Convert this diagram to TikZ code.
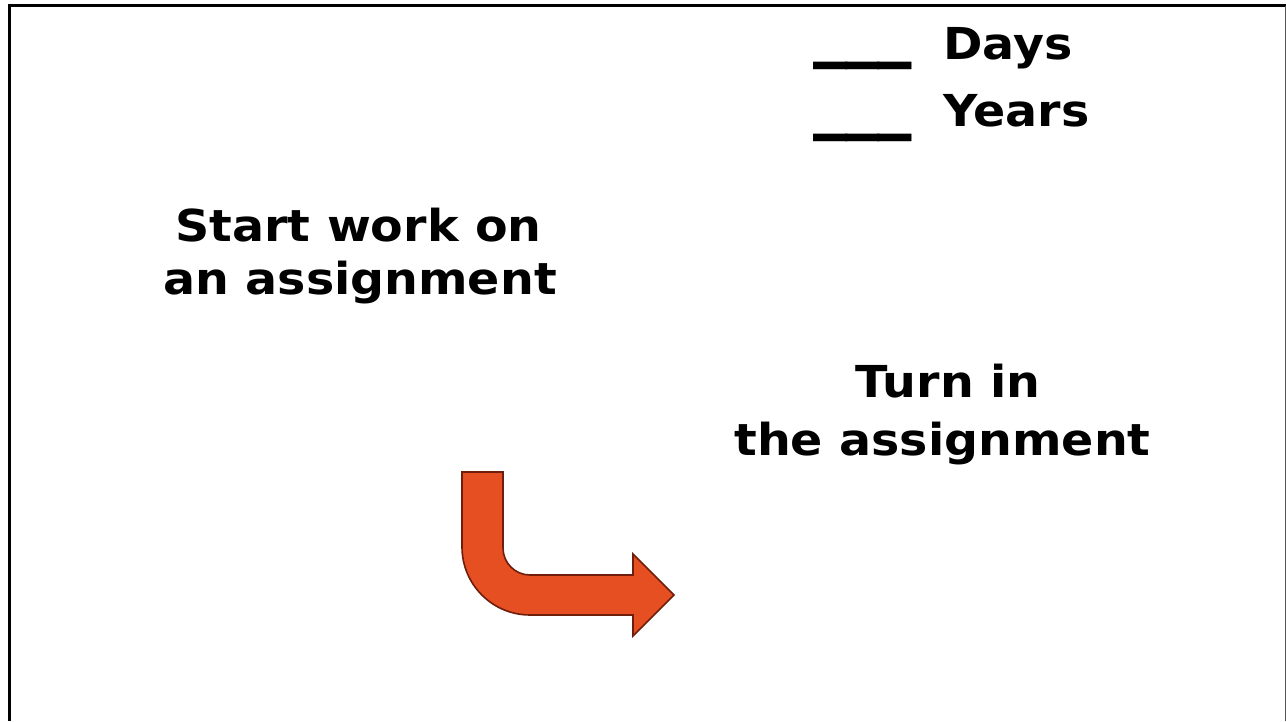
\documentclass[tikz,border=0pt]{standalone}
\usepackage{fontspec}
\newfontfamily\vfont{DejaVu Sans}[FakeStretch=1.08]
\definecolor{arrowfill}{HTML}{E64F22}
\definecolor{arrowline}{HTML}{6E1E0A}
\definecolor{edgegray}{HTML}{555555}
\newcommand{\blankline}{\scalebox{1.45}[1.85]{\_\kern-1.5pt\_\kern-1.5pt\_}}
\tikzset{
  lbl/.style={inner sep=0pt, font=\vfont\bfseries\fontsize{44}{54}\selectfont, text=black},
  bar/.style={inner sep=0pt, font=\vfont\bfseries\fontsize{44}{54}\selectfont, anchor=south west},
  bendarrow/.style={fill=arrowfill, draw=arrowline, line width=1.6pt, line join=miter}
}
\begin{document}
\begin{tikzpicture}[x=1pt,y=1pt]
\useasboundingbox (0,0) rectangle (1286,721);
\fill[white] (0,0) rectangle (1286,721);
% frame
\coordinate (tl) at (9.5,715);
\coordinate (tr) at (1286,715);
\coordinate (bl) at (9.5,0);
\coordinate (rt) at (1285.5,715);
\coordinate (rb) at (1285.5,0);
\draw[line width=3pt] (bl) -- (tl) -- (tr);
\draw[edgegray, line width=1pt] (rt) -- (rb);
% texts
\node[lbl, anchor=base] (s1) at (358.5,479) {Start work on};
\node[lbl, anchor=base] (s2) at (360,426) {an assignment};
\node[lbl, anchor=base] (t1) at (948,323) {Turn in};
\node[lbl, anchor=base] (t2) at (942.5,265) {the assignment};
\node[lbl, anchor=base west] (days) at (943,661) {Days};
\node[lbl, anchor=base west] (years) at (943,594) {Years};
\node[bar] (u1) at (813,651.5) {\blankline};
\node[bar] (u2) at (813,579.5) {\blankline};
% bent arrow
\draw[bendarrow] (462,249) -- (503,249) -- (503,173)
  arc[start angle=180, end angle=270, radius=27] -- (633,146) -- (633,167)
  -- (674,126) -- (633,85) -- (633,106) -- (530,106)
  arc[start angle=270, end angle=180, radius=68] -- cycle;
\end{tikzpicture}
\end{document}
